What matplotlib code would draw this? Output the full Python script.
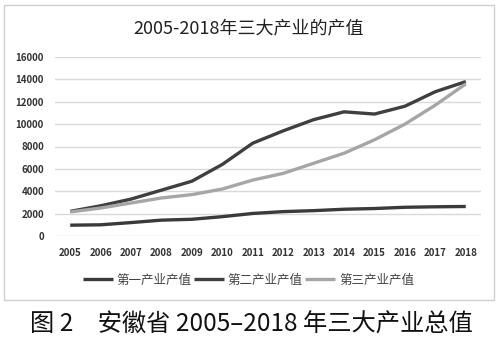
import matplotlib
matplotlib.use("Agg")
import matplotlib.pyplot as plt
from matplotlib.patches import Rectangle

plt.rcParams['font.family'] = ['Noto Sans CJK SC', 'DejaVu Sans']

years = [2005, 2006, 2007, 2008, 2009, 2010, 2011, 2012, 2013, 2014, 2015, 2016, 2017, 2018]
primary = [967, 1001, 1200, 1418, 1495, 1729, 2015, 2179, 2267, 2392, 2456, 2567, 2611, 2638]
secondary = [2200, 2700, 3300, 4100, 4900, 6400, 8300, 9400, 10400, 11100, 10900, 11600, 12900, 13800]
tertiary = [2150, 2500, 2950, 3400, 3700, 4200, 5000, 5600, 6500, 7400, 8600, 10000, 11700, 13600]
series_names = ['第一产业产值', '第二产业产值', '第三产业产值']
title = '2005-2018年三大产业的产值'
caption = '图 2　安徽省 2005–2018 年三大产业总值'

W, H = 500, 344
fig = plt.figure(figsize=(W / 100, H / 100), dpi=100)
fig.patch.set_facecolor('white')

# outer chart frame
fig.patches.append(Rectangle((4 / W, 1 - 300 / H), 490 / W, 295 / H, transform=fig.transFigure,
                             fill=False, edgecolor='#cfcfcf', linewidth=1.0))

ax = fig.add_axes([55 / W, 1 - 236 / H, 426 / W, 179 / H])
ax.set_xlim(2004.5, 2018.5)
ax.set_ylim(0, 16000)
ax.set_yticks(range(0, 16001, 2000))
ax.set_xticks(years)
ax.grid(axis='y', color='#d9d9d9', linewidth=1.0)
ax.set_axisbelow(True)
for s in ax.spines.values():
    s.set_visible(False)
ax.tick_params(length=0, labelsize=7, colors='#333333', pad=8)
ax.tick_params(axis='x', pad=9)
for lab in ax.get_xticklabels() + ax.get_yticklabels():
    lab.set_fontweight('bold')

l1, = ax.plot(years, primary, color='#3a3a3a', linewidth=2.4, solid_capstyle='butt')
l2, = ax.plot(years, secondary, color='#3f3f3f', linewidth=2.4, solid_capstyle='butt')
l3, = ax.plot(years, tertiary, color='#a6a6a6', linewidth=2.4, solid_capstyle='butt')

fig.text(0.497, 1 - 28 / H, title, ha='center', va='center', fontsize=13, color='#222222')

fig.legend([l1, l2, l3], series_names, loc='center', bbox_to_anchor=(0.497, 1 - 280 / H),
           ncol=3, frameon=False, fontsize=9, handlelength=2.4, handletextpad=0.3,
           columnspacing=0.2, labelcolor='#444444')

fig.text(0.503, 1 - 325 / H, caption, ha='center', va='center', fontsize=17.5,
         fontweight='medium', color='#111111')

fig.savefig('out.png', dpi=100, facecolor='white')
